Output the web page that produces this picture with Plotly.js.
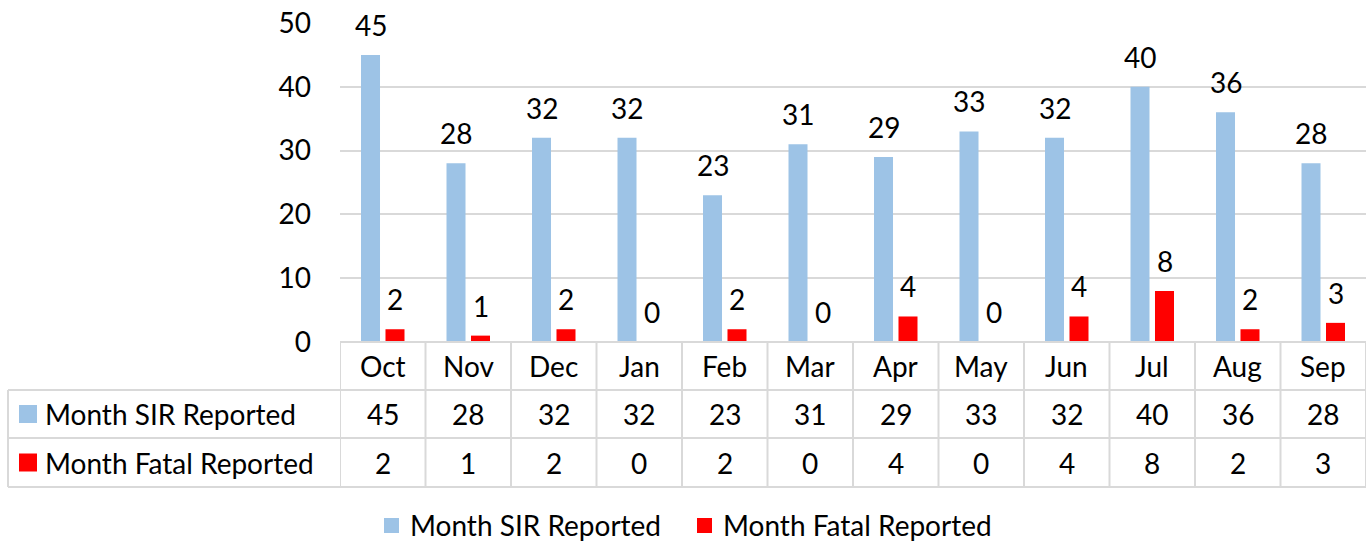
<!DOCTYPE html>
<html>
<head>
<meta charset="utf-8">
<script src="https://cdn.plot.ly/plotly-3.0.1.min.js"></script>
<style>html,body{margin:0;padding:0;background:#fff;}#chart{width:1372px;height:542px;}</style>
</head>
<body>
<div id="chart"></div>
<script>
const months = ['Oct','Nov','Dec','Jan','Feb','Mar','Apr','May','Jun','Jul','Aug','Sep'];
const sirValues = [45,28,32,32,23,31,29,33,32,40,36,28];
const fatalValues = [2,1,2,0,2,0,4,0,4,8,2,3];
const seriesNames = ['Month SIR Reported','Month Fatal Reported'];
const seriesColors = ['#9DC3E6','#FF0000'];
const yTicks = [0,10,20,30,40,50];

const W = 1372, H = 542;
const M = {l:340, r:6, t:23, b:200};
const plotH = H - M.t - M.b;
const plotW = W - M.l - M.r;
const FONT = 'Lato, "Open Sans", sans-serif';
const FS = 28;
const GRID = '#d9d9d9';
const py = Y => (H - M.b - Y) / plotH;
const px = X => (X - M.l) / plotW;

const bargap = 0.427;
const offset = (1 - bargap) / 4;
const tableLeft = 8;

const shapes = [];
const annotations = [];
// horizontal table lines
[390, 438, 487].forEach(Y => shapes.push({type:'line', xref:'paper', yref:'paper', x0:px(tableLeft), x1:1, y0:py(Y), y1:py(Y), line:{color:GRID, width:2}}));
shapes.push({type:'line', xref:'paper', yref:'paper', x0:0, x1:1, y0:py(342), y1:py(342), line:{color:GRID, width:2}});
// vertical lines
shapes.push({type:'line', xref:'paper', yref:'paper', x0:px(tableLeft), x1:px(tableLeft), y0:py(390), y1:py(487), line:{color:GRID, width:2}});
for (let i = 0; i <= months.length; i++) {
  shapes.push({type:'line', xref:'x', yref:'paper', x0:i-0.5, x1:i-0.5, y0:py(342), y1:py(487), line:{color:GRID, width:2}});
}
// row legend swatches + labels
const rowCenters = [414, 462.5];
seriesNames.forEach((name, k) => {
  const c = rowCenters[k];
  shapes.push({type:'rect', xref:'paper', yref:'paper', x0:px(19), x1:px(37), y0:py(c-9), y1:py(c+9), fillcolor:seriesColors[k], line:{width:0}});
  annotations.push({xref:'paper', yref:'paper', x:px(43), y:py(c), xanchor:'left', yanchor:'middle', text:name, showarrow:false, font:{family:FONT, size:FS, color:'#000'}});
});
// bottom legend
const legendSwatchX = [384, 697];
seriesNames.forEach((name, k) => {
  const x0 = legendSwatchX[k];
  shapes.push({type:'rect', xref:'paper', yref:'paper', x0:px(x0), x1:px(x0+15), y0:py(518), y1:py(533), fillcolor:seriesColors[k], line:{width:0}});
  annotations.push({xref:'paper', yref:'paper', x:px(x0+24), y:py(525), xanchor:'left', yanchor:'middle', text:name, showarrow:false, font:{family:FONT, size:FS, color:'#000'}});
});
const allValues = [sirValues, fatalValues];
months.forEach((m, i) => {
  annotations.push({xref:'x', yref:'paper', x:i, y:py(366), xanchor:'center', yanchor:'middle', text:m, showarrow:false, font:{family:FONT, size:FS, color:'#000'}});
  allValues.forEach((vals, k) => {
    annotations.push({xref:'x', yref:'paper', x:i, y:py(rowCenters[k]), xanchor:'center', yanchor:'middle', text:String(vals[i]), showarrow:false, font:{family:FONT, size:FS, color:'#000'}});
    annotations.push({xref:'x', yref:'y', x:i + (k === 0 ? -offset : offset), y:vals[i], xanchor:'center', yanchor:'middle', yshift:30, text:String(vals[i]), showarrow:false, font:{family:FONT, size:FS, color:'#000'}});
  });
});

const traces = seriesNames.map((name, k) => ({
  type:'bar', name:name, x:months, y:allValues[k],
  marker:{color:seriesColors[k], line:{width:0}},
  hoverinfo:'none'
}));

const layout = {
  width:W, height:H,
  margin:M,
  paper_bgcolor:'#fff', plot_bgcolor:'#fff',
  font:{family:FONT, size:FS, color:'#000'},
  barmode:'group', bargap:bargap, bargroupgap:0.224,
  showlegend:false,
  xaxis:{type:'category', range:[-0.5, months.length-0.5], showticklabels:false, showgrid:false, zeroline:false, showline:false, ticks:'', fixedrange:true},
  yaxis:{range:[0,50], tickvals:yTicks, ticktext:yTicks.map(String), showgrid:true, gridcolor:GRID, gridwidth:2, zeroline:false, showline:false, ticks:'', ticklabelstandoff:28, tickfont:{family:FONT, size:FS, color:'#000'}, fixedrange:true},
  shapes:shapes,
  annotations:annotations
};

Plotly.newPlot('chart', traces, layout, {displayModeBar:false, staticPlot:true});
</script>
</body>
</html>
